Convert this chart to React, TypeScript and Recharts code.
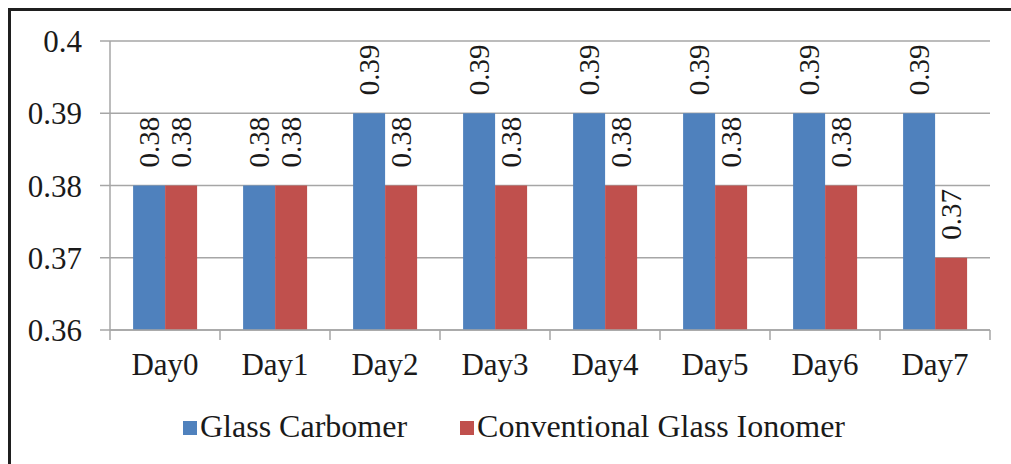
import React from 'react'
import { BarChart, Bar, XAxis, YAxis, CartesianGrid, LabelList } from 'recharts'

// Data
const days = ['Day0', 'Day1', 'Day2', 'Day3', 'Day4', 'Day5', 'Day6', 'Day7']
const glassCarbomer = [0.38, 0.38, 0.39, 0.39, 0.39, 0.39, 0.39, 0.39]
const conventionalGI = [0.38, 0.38, 0.38, 0.38, 0.38, 0.38, 0.38, 0.37]
const yTicks = [0.36, 0.37, 0.38, 0.39, 0.4]

const seriesNames = ['Glass Carbomer', 'Conventional Glass Ionomer']
const seriesColors = ['#4F81BD', '#C0504D']

const data = days.map((day, i) => ({
  day,
  gc: glassCarbomer[i],
  cgi: conventionalGI[i],
}))

const FONT = "'Liberation Serif', 'Times New Roman', serif"
const GRID = '#a6a6a6'
const TEXT = '#1a1a1a'

// Category tick: label at the centre, tick marks at the category edges
const DayTick = (props: any) => {
  const { x, y, payload, index, visibleTicksCount } = props
  const half = payload?.offset ?? 55
  const isLast = index === (visibleTicksCount ?? days.length) - 1
  return (
    <g>
      <line x1={x - half} y1={y} x2={x - half} y2={y + 10} stroke={GRID} strokeWidth={1.5} />
      {isLast && (
        <line x1={x + half} y1={y} x2={x + half} y2={y + 10} stroke={GRID} strokeWidth={1.5} />
      )}
      <text x={x} y={y + 45} textAnchor="middle" fill={TEXT} fontSize={31} style={{ fontFamily: FONT }}>
        {payload.value}
      </text>
    </g>
  )
}

// Value tick on the left axis
const ValueTick = (props: any) => {
  const { x, y, payload } = props
  return (
    <text x={x} y={y + 11} textAnchor="end" fill={TEXT} fontSize={31} style={{ fontFamily: FONT }}>
      {String(payload.value)}
    </text>
  )
}

// Rotated value label sitting above each bar
const RotatedLabel = (props: any) => {
  const { x, y, width, value } = props
  const cx = x + width / 2
  const cy = y - 18
  return (
    <text
      x={cx}
      y={cy}
      transform={`rotate(-90, ${cx}, ${cy})`}
      textAnchor="start"
      dominantBaseline="central"
      fill={TEXT}
      fontSize={29}
      style={{ fontFamily: FONT }}
    >
      {String(value)}
    </text>
  )
}

export default function App() {
  return (
    <div style={{ position: 'fixed', left: 0, top: 0, width: 1011, height: 464, overflow: 'hidden', background: '#fff' }}>
      <div
        style={{
          position: 'absolute',
          left: 8,
          top: 8,
          width: 1030,
          height: 480,
          border: '3px solid #1f1f1f',
          boxSizing: 'border-box',
        }}
      />
      <div style={{ position: 'absolute', left: 0, top: 0 }}>
        <BarChart
          width={1011}
          height={464}
          data={data}
          margin={{ top: 41, right: 21, bottom: 0, left: 0 }}
          barCategoryGap="21%"
          barGap={0}
        >
          <CartesianGrid vertical={false} stroke={GRID} strokeWidth={1.5} />
          <XAxis
            dataKey="day"
            height={134}
            axisLine={{ stroke: GRID, strokeWidth: 1.5 }}
            tickLine={false}
            tickSize={0}
            tickMargin={0}
            interval={0}
            tick={<DayTick />}
          />
          <YAxis
            width={110}
            domain={[0.36, 0.4]}
            ticks={yTicks}
            allowDataOverflow
            axisLine={{ stroke: GRID, strokeWidth: 1.5 }}
            tickLine={{ stroke: GRID, strokeWidth: 1.5 }}
            tickSize={10}
            tickMargin={18}
            tick={<ValueTick />}
          />
          <Bar dataKey="gc" name={seriesNames[0]} fill={seriesColors[0]} isAnimationActive={false}>
            <LabelList dataKey="gc" content={<RotatedLabel />} />
          </Bar>
          <Bar dataKey="cgi" name={seriesNames[1]} fill={seriesColors[1]} isAnimationActive={false}>
            <LabelList dataKey="cgi" content={<RotatedLabel />} />
          </Bar>
        </BarChart>
      </div>
      <div
        style={{
          position: 'absolute',
          left: 183,
          top: 408,
          display: 'flex',
          gap: 53,
          fontFamily: FONT,
          fontSize: 32,
          color: TEXT,
          lineHeight: '36px',
          whiteSpace: 'nowrap',
        }}
      >
        {seriesNames.map((name, i) => (
          <div key={name} style={{ display: 'flex', alignItems: 'center' }}>
            <span
              style={{
                display: 'inline-block',
                width: 14,
                height: 14,
                background: seriesColors[i],
                marginRight: 3,
                position: 'relative',
                top: 2,
              }}
            />
            <span>{name}</span>
          </div>
        ))}
      </div>
    </div>
  )
}
